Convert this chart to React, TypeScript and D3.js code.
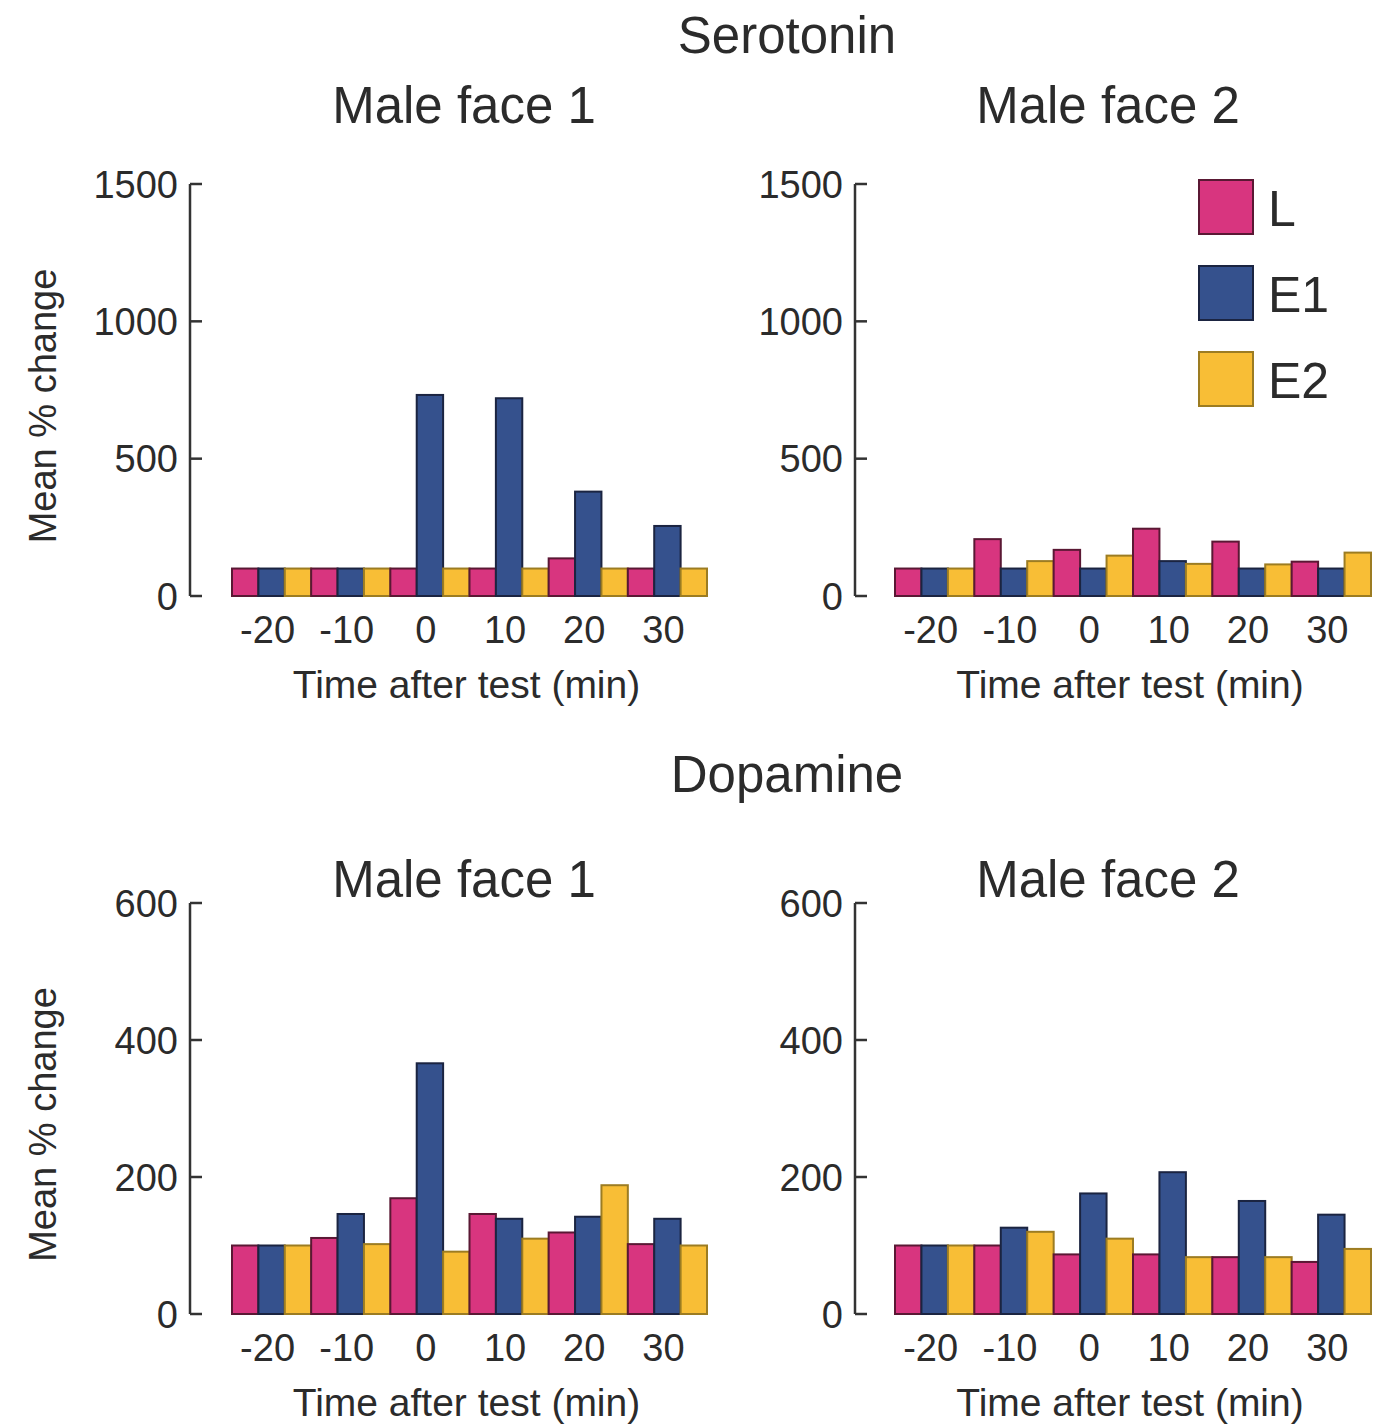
import React from "react";
import * as d3 from "d3";

const timePoints = ["-20", "-10", "0", "10", "20", "30"];
const seriesNames = ["L", "E1", "E2"];
const seriesFill = ["#D8357F", "#35518D", "#F8BE36"];
const seriesStroke = ["#5a1834", "#1b2441", "#9c7c22"];

// Serotonin
const serMF1_L = [100, 100, 100, 100, 137, 100];
const serMF1_E1 = [100, 100, 732, 720, 380, 255];
const serMF1_E2 = [100, 100, 100, 100, 100, 100];
const serMF2_L = [100, 207, 168, 245, 198, 125];
const serMF2_E1 = [100, 100, 100, 127, 100, 100];
const serMF2_E2 = [100, 127, 147, 117, 115, 158];
// Dopamine
const dopMF1_L = [100, 111, 169, 146, 119, 102];
const dopMF1_E1 = [100, 146, 366, 139, 142, 139];
const dopMF1_E2 = [100, 102, 91, 110, 188, 100];
const dopMF2_L = [100, 100, 87, 87, 83, 76];
const dopMF2_E1 = [100, 126, 176, 207, 165, 145];
const dopMF2_E2 = [100, 120, 110, 83, 83, 95];

const serTicks = [0, 500, 1000, 1500];
const dopTicks = [0, 200, 400, 600];

const FONT = "'Liberation Sans', Arial, Helvetica, sans-serif";
const TXT = "#2b2b2b";

type PanelProps = {
  axisX: number;
  x0: number;
  x1: number;
  yTop: number;
  yBot: number;
  maxV: number;
  ticks: number[];
  series: number[][];
  title: string;
  titleX: number;
  titleY: number;
  yLabel: boolean;
};

function Panel({ axisX, x0, x1, yTop, yBot, maxV, ticks, series, title, titleX, titleY, yLabel }: PanelProps) {
  const y = d3.scaleLinear().domain([0, maxV]).range([yBot, yTop]);
  const xg = d3.scaleBand<string>().domain(timePoints).range([x0, x1]).padding(0);
  const xs = d3.scaleBand<string>().domain(seriesNames).range([0, xg.bandwidth()]).padding(0);
  const cx = (x0 + x1) / 2;
  return (
    <g>
      <text x={titleX} y={titleY} textAnchor="middle" fontSize={51} fontFamily={FONT} fill={TXT}>
        {title}
      </text>
      {timePoints.map((t, i) => (
        <g key={t}>
          {seriesNames.map((s, j) => {
            const v = series[j][i];
            return (
              <rect
                key={s}
                x={(xg(t) as number) + (xs(s) as number)}
                y={y(v)}
                width={xs.bandwidth()}
                height={y(0) - y(v)}
                fill={seriesFill[j]}
                stroke={seriesStroke[j]}
                strokeWidth={2}
              />
            );
          })}
          <text
            x={(xg(t) as number) + xg.bandwidth() / 2 - 4}
            y={yBot + 47}
            textAnchor="middle"
            fontSize={38}
            fontFamily={FONT}
            fill={TXT}
          >
            {t}
          </text>
        </g>
      ))}
      <line x1={axisX} x2={axisX} y1={y(maxV)} y2={y(0)} stroke="#333" strokeWidth={2.5} />
      {ticks.map((tk) => (
        <g key={tk}>
          <line x1={axisX} x2={axisX + 12} y1={y(tk)} y2={y(tk)} stroke="#333" strokeWidth={2.5} />
          <text
            x={axisX - 12}
            y={y(tk)}
            dy="0.36em"
            textAnchor="end"
            fontSize={38}
            fontFamily={FONT}
            fill={TXT}
          >
            {tk}
          </text>
        </g>
      ))}
      <text x={cx - 3} y={yBot + 102} textAnchor="middle" fontSize={39} fontFamily={FONT} fill={TXT}>
        Time after test (min)
      </text>
      {yLabel && (
        <text
          transform={`translate(56, ${(yTop + yBot) / 2 + 16}) rotate(-90)`}
          textAnchor="middle"
          fontSize={38}
          fontFamily={FONT}
          fill={TXT}
        >
          Mean % change
        </text>
      )}
    </g>
  );
}

export default function App() {
  return (
    <svg width={1384} height={1425} style={{ display: "block", position: "absolute", left: 0, top: 0 }}>
      <rect x={0} y={0} width={1384} height={1425} fill="#fff" />
      <text x={787} y={53} textAnchor="middle" fontSize={51} fontFamily={FONT} fill={TXT}>
        Serotonin
      </text>
      <text x={787} y={792} textAnchor="middle" fontSize={51} fontFamily={FONT} fill={TXT}>
        Dopamine
      </text>
      <Panel axisX={190} x0={232} x1={707} yTop={184} yBot={596} maxV={1500} ticks={serTicks}
        series={[serMF1_L, serMF1_E1, serMF1_E2]} title="Male face 1" titleX={464} titleY={123} yLabel={true} />
      <Panel axisX={855} x0={895} x1={1371} yTop={184} yBot={596} maxV={1500} ticks={serTicks}
        series={[serMF2_L, serMF2_E1, serMF2_E2]} title="Male face 2" titleX={1108} titleY={123} yLabel={false} />
      <Panel axisX={190} x0={232} x1={707} yTop={903} yBot={1314} maxV={600} ticks={dopTicks}
        series={[dopMF1_L, dopMF1_E1, dopMF1_E2]} title="Male face 1" titleX={464} titleY={897} yLabel={true} />
      <Panel axisX={855} x0={895} x1={1371} yTop={903} yBot={1314} maxV={600} ticks={dopTicks}
        series={[dopMF2_L, dopMF2_E1, dopMF2_E2]} title="Male face 2" titleX={1108} titleY={897} yLabel={false} />
      {seriesNames.map((s, j) => (
        <g key={s}>
          <rect x={1199} y={180 + j * 86} width={54} height={54} fill={seriesFill[j]} stroke={seriesStroke[j]} strokeWidth={2} />
          <text x={1268} y={226 + j * 86} fontSize={50} fontFamily={FONT} fill={TXT}>
            {s}
          </text>
        </g>
      ))}
    </svg>
  );
}
